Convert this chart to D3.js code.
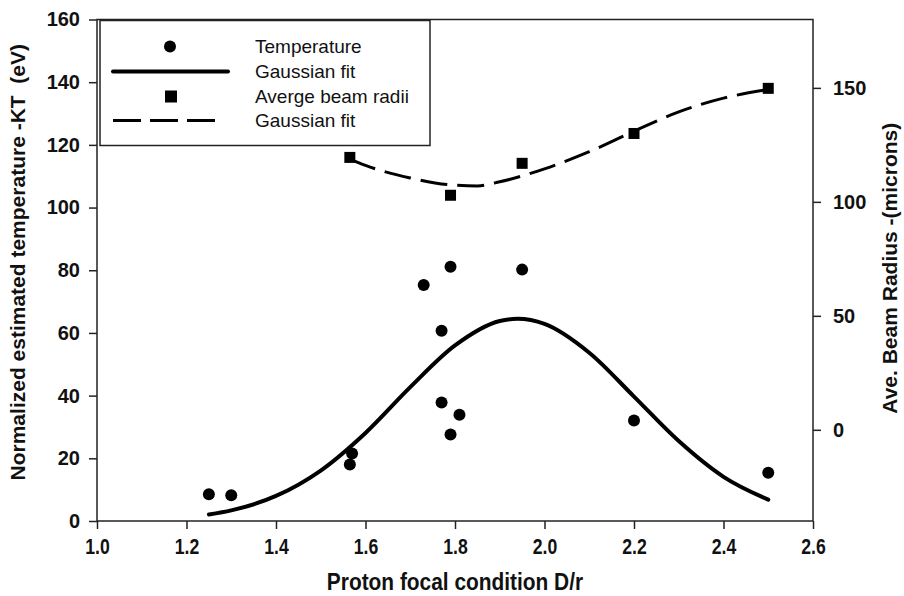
<!DOCTYPE html>
<html>
<head>
<meta charset="utf-8">
<script src="https://cdn.jsdelivr.net/npm/d3@7"></script>
<style>
  body { margin: 0; background: #fff; }
  text { font-family: "Liberation Sans", Arial, sans-serif; fill: #111; }
  .axis text { font-weight: bold; font-size: 20px; }
  .axis.xax text { font-size: 22px; }
  .axis line { stroke: #222; stroke-width: 1.5; }
  .title { font-weight: bold; font-size: 21px; white-space: pre; }
  .legend text { font-size: 19px; }
</style>
</head>
<body>
<div id="chart"></div>
<script>
// temperature points (D/r, kT in eV)
var tempX = [1.25, 1.30, 1.565, 1.57, 1.73, 1.77, 1.77, 1.79, 1.79, 1.81, 1.95, 2.20, 2.50];
var tempY = [8.5, 8.2, 18.0, 21.5, 75.3, 60.7, 37.8, 81.1, 27.6, 33.9, 80.2, 32.1, 15.4];

// gaussian fit to temperature
var tempFitX = [1.25, 1.30, 1.40, 1.50, 1.60, 1.70, 1.80, 1.90, 1.94, 2.00, 2.10, 2.20, 2.30, 2.40, 2.50];
var tempFitY = [2.1, 3.4, 8.0, 16.1, 28.1, 42.7, 56.0, 63.8, 64.5, 62.9, 53.7, 39.7, 25.5, 14.1, 6.8];

// average beam radii (microns, right axis)
var beamX = [1.565, 1.79, 1.95, 2.20, 2.50];
var beamY = [119.5, 102.9, 116.9, 130.0, 149.8];

// gaussian fit to beam radii
var beamFitX = [1.565, 1.60, 1.70, 1.80, 1.85, 1.90, 2.00, 2.10, 2.20, 2.30, 2.40, 2.50];
var beamFitY = [118.8, 116.0, 110.5, 107.3, 107.0, 108.8, 114.5, 122.0, 131.0, 139.5, 145.5, 149.3];

var xTicks = [1.0, 1.2, 1.4, 1.6, 1.8, 2.0, 2.2, 2.4, 2.6];
var leftTicks = [0, 20, 40, 60, 80, 100, 120, 140, 160];
var rightTicks = [0, 50, 100, 150];

var legendLabels = ["Temperature", "Gaussian fit", "Averge beam radii", "Gaussian fit"];

var margin = { top: 19.5, right: 91, bottom: 75, left: 97 },
    width = 904 - margin.left - margin.right,
    height = 596 - margin.top - margin.bottom;

var x = d3.scaleLinear().domain([1.0, 2.6]).range([0, width]);
var y = d3.scaleLinear().domain([0, 160]).range([height, 0]);
var y2 = d3.scaleLinear().domain([-40, 180]).range([height, 0]);

var svg = d3.select("#chart").append("svg")
    .attr("width", 904)
    .attr("height", 596)
  .append("g")
    .attr("transform", "translate(" + margin.left + "," + margin.top + ")");

// frame
svg.append("rect")
    .attr("width", width).attr("height", height)
    .attr("fill", "none").attr("stroke", "#222").attr("stroke-width", 1.5);

// x axis (labels are narrow in the original)
var gx = svg.append("g").attr("class", "axis xax")
    .attr("transform", "translate(0," + height + ")")
    .call(d3.axisBottom(x).tickValues(xTicks).tickSize(8).tickPadding(9).tickFormat(d3.format(".1f")));
gx.select(".domain").remove();
gx.selectAll("text").attr("transform", "scale(0.8,1)");

// left axis
var gy = svg.append("g").attr("class", "axis")
    .call(d3.axisLeft(y).tickValues(leftTicks).tickSize(8).tickPadding(9).tickFormat(d3.format("d")));
gy.select(".domain").remove();

// right axis
var gy2 = svg.append("g").attr("class", "axis")
    .attr("transform", "translate(" + width + ",0)")
    .call(d3.axisRight(y2).tickValues(rightTicks).tickSize(8).tickPadding(12).tickFormat(d3.format("d")));
gy2.select(".domain").remove();

// titles
svg.append("g")
    .attr("transform", "translate(" + (width / 2) + "," + (height + 69) + ")")
  .append("text").attr("class", "title")
    .attr("transform", "scale(0.87,1)")
    .style("font-size", "24px")
    .attr("text-anchor", "middle")
    .text("Proton focal condition D/r");

svg.append("text").attr("class", "title")
    .attr("transform", "translate(" + (-72) + "," + (height / 2 - 8) + ") rotate(-90)")
    .attr("text-anchor", "middle")
    .text("Normalized estimated temperature -KT  (eV)");

svg.append("text").attr("class", "title")
    .attr("transform", "translate(" + (width + 84) + "," + (height / 2 - 2) + ") rotate(-90)")
    .attr("text-anchor", "middle")
    .text("Ave. Beam Radius -(microns)");

var line = d3.line().curve(d3.curveMonotoneX);

// temperature fit
svg.append("path")
    .datum(tempFitX.map((d, i) => [x(d), y(tempFitY[i])]))
    .attr("d", line)
    .attr("fill", "none").attr("stroke", "#000").attr("stroke-width", 4)
    .attr("stroke-linecap", "round");

// beam fit
svg.append("path")
    .datum(beamFitX.map((d, i) => [x(d), y2(beamFitY[i])]))
    .attr("d", line)
    .attr("fill", "none").attr("stroke", "#000").attr("stroke-width", 3)
    .attr("stroke-dasharray", "27,10");

// temperature points
svg.selectAll(".dot")
    .data(tempX)
    .enter().append("circle")
    .attr("class", "dot")
    .attr("cx", d => x(d))
    .attr("cy", (d, i) => y(tempY[i]))
    .attr("r", 6)
    .attr("fill", "#000");

// beam points
svg.selectAll(".sq")
    .data(beamX)
    .enter().append("rect")
    .attr("class", "sq")
    .attr("x", d => x(d) - 5.5)
    .attr("y", (d, i) => y2(beamY[i]) - 5.5)
    .attr("width", 11).attr("height", 11)
    .attr("fill", "#000");

// legend
var lg = svg.append("g").attr("class", "legend").attr("transform", "translate(3,1)");
lg.append("rect")
    .attr("width", 330).attr("height", 125)
    .attr("fill", "#fff").attr("stroke", "#222").attr("stroke-width", 1.5);

var rowY = [26, 51, 76, 100];
lg.append("circle").attr("cx", 70).attr("cy", rowY[0]).attr("r", 6).attr("fill", "#000");
lg.append("line").attr("x1", 13).attr("x2", 128).attr("y1", rowY[1]).attr("y2", rowY[1])
    .attr("stroke", "#000").attr("stroke-width", 4).attr("stroke-linecap", "round");
lg.append("rect").attr("x", 65).attr("y", rowY[2] - 6).attr("width", 12).attr("height", 12).attr("fill", "#000");
lg.append("line").attr("x1", 13).attr("x2", 118).attr("y1", rowY[3]).attr("y2", rowY[3])
    .attr("stroke", "#000").attr("stroke-width", 3).attr("stroke-dasharray", "28,9");

lg.selectAll(".lt")
    .data(legendLabels)
    .enter().append("text")
    .attr("class", "lt")
    .attr("x", 155)
    .attr("y", (d, i) => rowY[i])
    .attr("dy", "0.35em")
    .text(d => d);
</script>
</body>
</html>
